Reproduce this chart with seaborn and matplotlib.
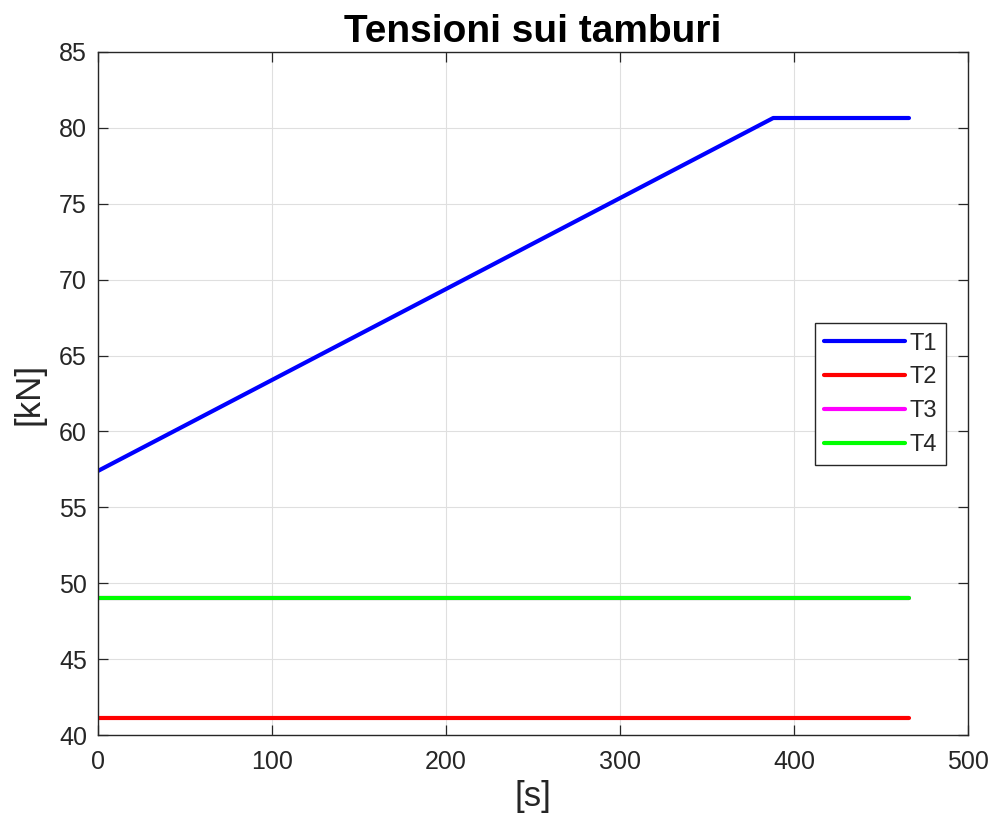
import matplotlib
matplotlib.use("Agg")
import matplotlib.pyplot as plt
import seaborn as sns
import pandas as pd

# Drum tensions over time
t = [0, 388, 466]
T1 = [57.4, 80.65, 80.65]
T2 = [41.12, 41.12, 41.12]
T3 = [49.04, 49.04, 49.04]
T4 = [49.04, 49.04, 49.04]
series_names = ["T1", "T2", "T3", "T4"]
series_colors = ["#0000ff", "#ff0000", "#ff00ff", "#00ff00"]

rows = []
for name, vals in zip(series_names, [T1, T2, T3, T4]):
    for x, y in zip(t, vals):
        rows.append({"t": x, "val": y, "serie": name})
df = pd.DataFrame(rows)

sns.set_theme(style="whitegrid")
plt.rcParams["font.family"] = ["Liberation Sans", "DejaVu Sans"]

fig = plt.figure(figsize=(9.95, 8.33), dpi=100)
ax = fig.add_axes([0.0985, 0.1176, 0.8745, 0.82])

sns.lineplot(data=df, x="t", y="val", hue="serie", hue_order=series_names,
             palette=dict(zip(series_names, series_colors)), linewidth=3.0,
             ax=ax, sort=False)

ax.set_xlim(0, 500)
ax.set_ylim(40, 85)
ax.set_xticks([0, 100, 200, 300, 400, 500])
ax.set_yticks(list(range(40, 86, 5)))
ax.grid(True, color="#dfdfdf", linewidth=0.8)
for s in ax.spines.values():
    s.set_visible(True)
    s.set_color("#262626")
    s.set_linewidth(1.0)
ax.tick_params(direction="in", length=7, width=0.9, colors="#262626",
               labelsize=18, top=True, right=True, bottom=True, left=True,
               labelcolor="#262626")
ax.tick_params(axis="x", pad=11)
ax.tick_params(axis="y", pad=8)
ax.set_xlabel("[s]", fontsize=25, color="#262626", labelpad=4)
ax.set_ylabel("[kN]", fontsize=25, color="#262626", labelpad=10)
ax.set_title("Tensioni sui tamburi", fontsize=28, fontweight="bold",
             color="black", pad=7)

leg = ax.legend(loc="upper right", bbox_to_anchor=(0.975, 0.603), fontsize=17,
                frameon=True, fancybox=False, edgecolor="#262626",
                framealpha=1, handlelength=3.4, labelspacing=0.5,
                borderpad=0.4, handletextpad=0.2, borderaxespad=0)
leg.get_frame().set_linewidth(1.0)
for line in leg.get_lines():
    line.set_linewidth(3.0)

fig.savefig("out.png", dpi=100)
